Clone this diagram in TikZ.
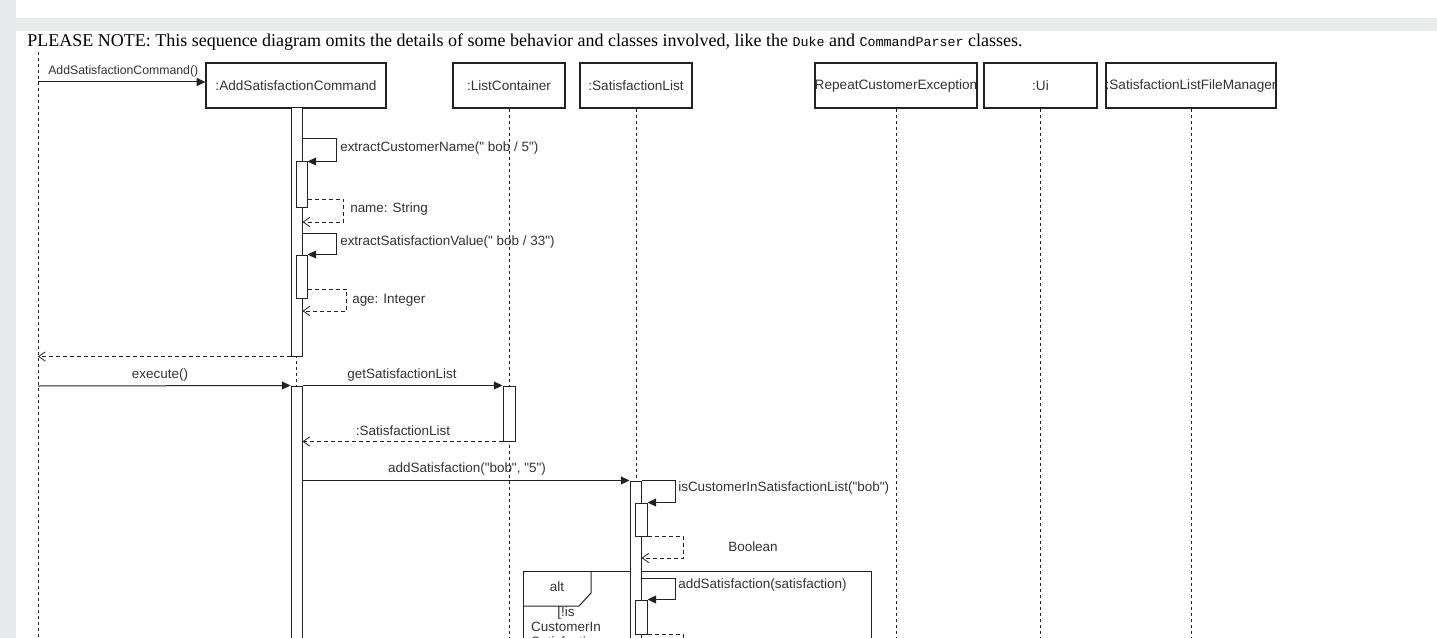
\documentclass[tikz,border=0pt]{standalone}
\usepackage{fontspec}
\setmainfont{Liberation Serif}
\newfontfamily\dsans{Liberation Sans}
\newfontfamily\nmono{Liberation Mono}
\usetikzlibrary{arrows.meta,fit}

\definecolor{pagegray}{HTML}{E8E9EB}
\definecolor{ink}{HTML}{222222}
\definecolor{txt}{HTML}{333333}

\tikzset{
  lifebox/.style={draw=ink, line width=0.9pt, fill=white, inner sep=0pt},
  hdr/.style={font=\dsans\fontsize{10.2}{12}\selectfont, text=txt, inner sep=0pt},
  lbl/.style={font=\dsans\fontsize{10.1}{12}\selectfont, text=txt, inner sep=0pt},
  actbar/.style={draw=ink, line width=0.75pt, fill=white, inner sep=0pt},
  lifeline/.style={draw=ink, line width=0.6pt, dash pattern=on 2.25pt off 2.25pt},
  msg/.style={draw=ink, line width=0.75pt, -{Triangle[length=6.5pt,width=6pt]}},
  ret/.style={draw=ink, line width=0.6pt, dash pattern=on 3pt off 2.25pt, -{Straight Barb[length=5pt,width=7pt,line width=0.6pt]}},
  frame/.style={draw=ink, line width=0.75pt}
}

\begin{document}
\begin{tikzpicture}[x=0.75pt,y=-0.75pt]
\useasboundingbox (0,0) rectangle (1437,638);
\clip (0,0) rectangle (1437,638);

% page background
\fill[pagegray] (0,0) rectangle (1437,638);
\fill[white] (16,0) rectangle (1437,18);
\fill[white] (16,31) rectangle (1437,640);

% note line
\node[anchor=base west, inner sep=0pt, font=\fontsize{13.5}{16}\selectfont] (note) at (27,47)
  {PLEASE NOTE: This sequence diagram omits the details of some behavior and classes involved, like the {\nmono\fontsize{10}{12}\selectfont Duke} and {\nmono\fontsize{10}{12}\selectfont CommandParser} classes.};

\coordinate (bottom) at (0,645);

% participants
\node[lifebox, fit={(206,63)(386,108)}, label={[hdr]center:{:AddSatisfactionCommand}}] (h1) {};
\node[lifebox, fit={(453,63)(565,108)}, label={[hdr]center:{:ListContainer}}] (h2) {};
\node[lifebox, fit={(580,63)(692,108)}, label={[hdr]center:{:SatisfactionList}}] (h3) {};
\node[lifebox, fit={(815,63)(977,108)}, label={[hdr]center:{RepeatCustomerException}}] (h4) {};
\node[lifebox, fit={(984,63)(1097,108)}, label={[hdr]center:{:Ui}}] (h5) {};
\node[lifebox, fit={(1106,63)(1276,108)}, label={[hdr]center:{:SatisfactionListFileManager}}] (h6) {};

% lifelines
\coordinate (u0) at (38,52);
\draw[lifeline] (u0) -- (u0 |- bottom);
\draw[lifeline] (h1.south) -- (h1.south |- bottom);
\draw[lifeline] (h2.south) -- (h2.south |- bottom);
\draw[lifeline] (h3.south) -- (h3.south |- bottom);
\draw[lifeline] (h4.south) -- (h4.south |- bottom);
\draw[lifeline] (h5.south) -- (h5.south |- bottom);
\draw[lifeline] (h6.south) -- (h6.south |- bottom);

% alt fragment
\coordinate (altnw) at (523,571);
\coordinate (altne) at (871,571);
\draw[frame] (altnw |- bottom) -- (altnw) -- (altne) -- (altne |- bottom);
\draw[frame] (591,571) -- (591,593) -- (579,606) -- (523,606);
\node[lbl] (alt) at (557,587) {alt};
\node[lbl, align=center, font=\dsans\fontsize{10.1}{11.25}\selectfont, anchor=north] (guard) at (566,606) {[!is\\CustomerIn\\Satisfaction};

% activation bars
\node[actbar, fit={(291,108)(302,356)}] (a1) {};
\node[actbar, fit={(296,162)(307,207)}] (a1a) {};
\node[actbar, fit={(296,255)(307,298)}] (a1b) {};
\node[actbar, fit={(291,386)(302,650)}] (a2) {};
\node[actbar, fit={(503,386)(515,441)}] (b1) {};
\node[actbar, fit={(630,481)(641,650)}] (c1) {};
\node[actbar, fit={(635,503)(647,536)}] (c1a) {};
\node[actbar, fit={(635,600)(647,634)}] (c1b) {};

% constructor call
\coordinate (m0s) at (38,82);
\draw[msg] (m0s) -- (m0s -| h1.west);
\node[lbl, font=\dsans\fontsize{9.2}{11}\selectfont, anchor=west] (m0l) at (48,71) {AddSatisfactionCommand()};

% self calls inside the command
\draw[msg] (a1.east |- 0,139) -- ++(34,0) |- (a1a.north east);
\node[lbl, anchor=west] (s1l) at (340,148) {extractCustomerName(" bob / 5")};
\draw[ret] (a1a.east |- 0,199) -- ++(36,0) |- (a1.east |- 0,222);
\node[lbl, anchor=west] (r1l) at (350,209) {name: String};

\draw[msg] (a1.east |- 0,233) -- ++(34,0) |- (a1b.north east);
\node[lbl, anchor=west] (s2l) at (340,242) {extractSatisfactionValue(" bob / 33")};
\draw[ret] (a1b.east |- 0,289) -- ++(39,0) |- (a1.east |- 0,311);
\node[lbl, anchor=west] (r2l) at (352,300) {age: Integer};

\draw[ret] (a1.south west) -- (u0 |- a1.south west);

% execute
\coordinate (m1s) at (38,386);
\draw[msg] (m1s) -- (a2.north west);
\node[lbl] (m1l) at (160,375) {execute()};
\draw[msg] (a2.north east) -- (b1.north west);
\node[lbl] (m2l) at (402,375) {getSatisfactionList};
\draw[ret] (b1.south west) -- (a2.east |- b1.south west);
\node[lbl] (r4l) at (403,431) {:SatisfactionList};

\draw[msg] (a2.east |- c1.north west) -- (c1.north west);
\node[lbl] (m3l) at (467,469) {addSatisfaction("bob", "5")};

% calls on the satisfaction list
\draw[msg] (c1.north east) -- ++(34,0) |- (c1a.north east);
\node[lbl, anchor=west] (s3l) at (678,488) {isCustomerInSatisfactionList("bob")};
\draw[ret] (c1a.south east) -- ++(36,0) |- (c1.east |- 0,558);
\node[lbl] (r5l) at (753,547) {Boolean};

\draw[msg] (c1.east |- 0,578) -- ++(34,0) |- (c1b.north east);
\node[lbl, anchor=west] (s4l) at (678,585) {addSatisfaction(satisfaction)};
\draw[ret] (c1b.south east) -- ++(36,0) -- ++(0,20);
\end{tikzpicture}
\end{document}
